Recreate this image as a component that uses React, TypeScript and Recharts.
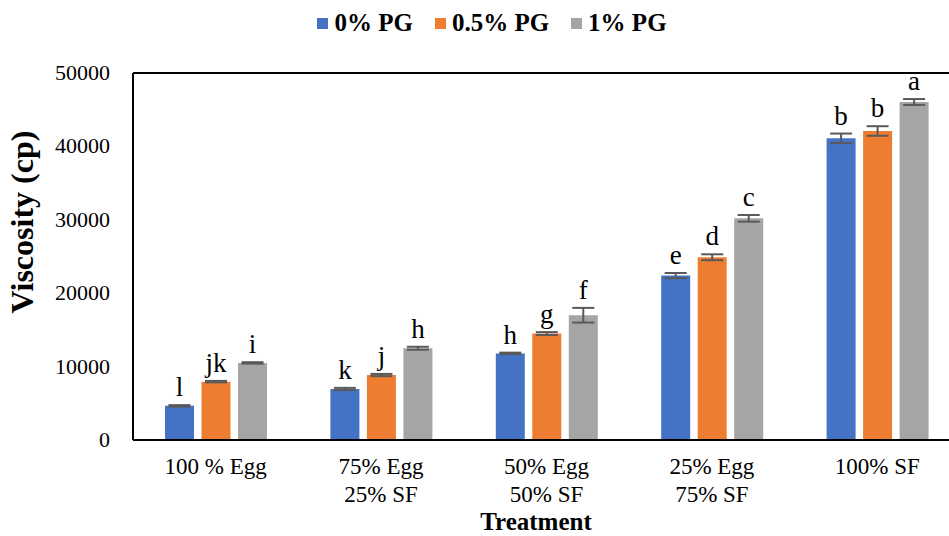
import { BarChart, Bar, XAxis, YAxis, ErrorBar, LabelList, Label, ReferenceLine } from 'recharts';

const categories = ['100 % Egg', '75% Egg\n25% SF', '50% Egg\n50% SF', '25% Egg\n75% SF', '100% SF'];

// viscosity means (cp)
const pg0 = [4650, 6950, 11800, 22400, 41100];
const pg05 = [7950, 8850, 14500, 24900, 42100];
const pg1 = [10500, 12500, 17000, 30200, 46050];

// standard deviations
const err0 = [100, 150, 100, 350, 650];
const err05 = [100, 150, 200, 400, 650];
const err1 = [100, 200, 1000, 450, 400];

// significance letters
const letters0 = ['l', 'k', 'h', 'e', 'b'];
const letters05 = ['jk', 'j', 'g', 'd', 'b'];
const letters1 = ['i', 'h', 'f', 'c', 'a'];

const yTicks = [0, 10000, 20000, 30000, 40000, 50000];

const seriesNames = ['0% PG', '0.5% PG', '1% PG'];
const colors = ['#4472C4', '#ED7D31', '#A5A5A5'];

const FONT = 'Liberation Serif, Times New Roman, serif';

const data = categories.map((name, i) => ({
  name,
  v0: pg0[i],
  v05: pg05[i],
  v1: pg1[i],
  e0: err0[i],
  e05: err05[i],
  e1: err1[i],
  l0: letters0[i],
  l05: letters05[i],
  l1: letters1[i],
}));

function CategoryTick(props: any) {
  const { x, y, payload } = props;
  const lines = String(payload.value).split('\n');
  return (
    <text x={x} y={y + 34} textAnchor="middle" fontFamily={FONT} fontSize={23} fill="#000">
      {lines.map((line, i) => (
        <tspan key={i} x={x} dy={i === 0 ? 0 : 28}>
          {line}
        </tspan>
      ))}
    </text>
  );
}

function ValueTick(props: any) {
  const { x, y, payload } = props;
  return (
    <text x={x} y={y} dy={7} textAnchor="end" fontFamily={FONT} fontSize={22} fill="#000">
      {payload.value}
    </text>
  );
}

// letter sits just above the error bar cap
const letterLabel = (vals: number[], errs: number[]) => (props: any) => {
  const x = Number(props.x);
  const y = Number(props.y);
  const width = Number(props.width);
  const height = Number(props.height);
  const i = props.index;
  const errPx = (errs[i] * height) / vals[i];
  return (
    <text x={x + width / 2} y={y - errPx - 9} textAnchor="middle" fontFamily={FONT} fontSize={27} fill="#000">
      {props.value}
    </text>
  );
};

export default function App() {
  return (
    <div
      style={{
        position: 'fixed',
        left: 0,
        top: 0,
        width: 949,
        height: 536,
        overflow: 'hidden',
        background: '#fff',
      }}
    >
      <div
        style={{
          position: 'absolute',
          top: 9,
          left: 0,
          width: 984,
          display: 'flex',
          justifyContent: 'center',
          gap: 22,
          fontFamily: FONT,
          fontWeight: 'bold',
          fontSize: 25,
          lineHeight: '28px',
        }}
      >
        {seriesNames.map((s, i) => (
          <div key={s} style={{ display: 'flex', alignItems: 'center' }}>
            <span style={{ width: 11, height: 11, background: colors[i], marginRight: 6 }} />
            <span>{s}</span>
          </div>
        ))}
      </div>
      <BarChart
        width={960}
        height={536}
        data={data}
        margin={{ top: 73, right: 0, left: 0, bottom: 0 }}
        barSize={29}
        barGap={7.5}
      >
        <XAxis
          dataKey="name"
          height={96}
          axisLine={{ stroke: '#000', strokeWidth: 2 }}
          tickLine={false}
          tickSize={0}
          tickMargin={0}
          interval={0}
          tick={<CategoryTick />}
        >
          <Label
            content={() => (
              <text x={536} y={530} textAnchor="middle" fontFamily={FONT} fontWeight="bold" fontSize={25} fill="#000">
                Treatment
              </text>
            )}
          />
        </XAxis>
        <YAxis
          width={133}
          domain={[0, 50000]}
          ticks={yTicks}
          axisLine={{ stroke: '#000', strokeWidth: 2 }}
          tickLine={false}
          tickSize={0}
          tickMargin={23}
          tick={<ValueTick />}
        >
          <Label
            content={() => (
              <text
                x={33}
                y={222}
                transform="rotate(-90 33 222)"
                textAnchor="middle"
                fontFamily={FONT}
                fontWeight="bold"
                fontSize={32}
                fill="#000"
              >
                Viscosity (cp)
              </text>
            )}
          />
        </YAxis>
        <ReferenceLine y={50000} stroke="#000" strokeWidth={2} />
        <Bar dataKey="v0" name={seriesNames[0]} fill={colors[0]} isAnimationActive={false}>
          <ErrorBar dataKey="e0" width={11} strokeWidth={2} stroke="#595959" direction="y" />
          <LabelList dataKey="l0" content={letterLabel(pg0, err0)} />
        </Bar>
        <Bar dataKey="v05" name={seriesNames[1]} fill={colors[1]} isAnimationActive={false}>
          <ErrorBar dataKey="e05" width={11} strokeWidth={2} stroke="#595959" direction="y" />
          <LabelList dataKey="l05" content={letterLabel(pg05, err05)} />
        </Bar>
        <Bar dataKey="v1" name={seriesNames[2]} fill={colors[2]} isAnimationActive={false}>
          <ErrorBar dataKey="e1" width={11} strokeWidth={2} stroke="#595959" direction="y" />
          <LabelList dataKey="l1" content={letterLabel(pg1, err1)} />
        </Bar>
      </BarChart>
    </div>
  );
}
